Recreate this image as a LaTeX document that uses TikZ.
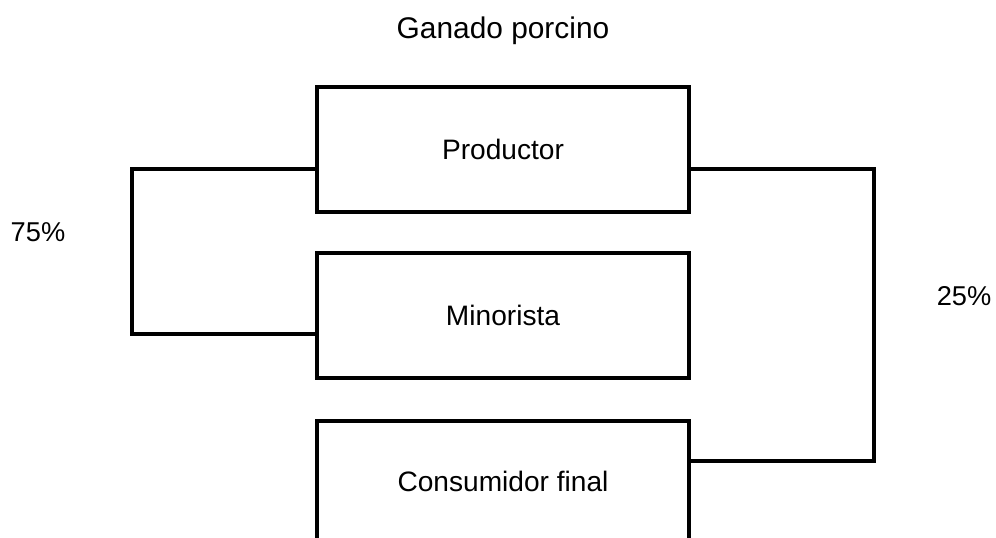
\documentclass[tikz,border=0pt]{standalone}
\usepackage{fontspec}
\setmainfont{Liberation Sans}
\usetikzlibrary{positioning}

\tikzset{
    caja/.style={draw, black, line width=1.9pt, minimum width=7.44cm, minimum height=2.5cm, inner sep=0pt, font=\fontsize{16}{19}\selectfont},
    enlace/.style={draw, black, line width=1.9pt},
    etiqueta/.style={font=\fontsize{15.5}{18}\selectfont, inner sep=0pt}
}

\begin{document}
\begin{tikzpicture}[x=0.02cm, y=-0.02cm]
                \useasboundingbox (0, 0) rectangle (996, 537);
                \clip (0, 0) rectangle (996, 537);
                \node [font=\fontsize{17}{20}\selectfont] (titulo) at (503, 31) {Ganado porcino};
                \node [caja] (productor) at (503, 149.5) {Productor};
                \node [caja] (minorista) at (503, 315.5) {Minorista};
                \node [caja, minimum height=2.4cm] (consumidor) at (503, 481) {Consumidor final};
                % 75% hacia el minorista
                \coordinate (izq) at (132, 0);
                \draw [enlace] ([yshift=-0.39cm]productor.west) -- ([yshift=-0.39cm]productor.west -| izq) -- ([yshift=-0.37cm]minorista.west -| izq) -- ([yshift=-0.37cm]minorista.west);
                % 25% directo al consumidor
                \coordinate (der) at (874, 0);
                \draw [enlace] ([yshift=-0.39cm]productor.east) -- ([yshift=-0.39cm]productor.east -| der) -- ([yshift=0.4cm]consumidor.east -| der) -- ([yshift=0.4cm]consumidor.east);
                \node [etiqueta] (p75) at (38, 232) {75\%};
                \node [etiqueta] (p25) at (964, 296) {25\%};
            \end{tikzpicture}
\end{document}
